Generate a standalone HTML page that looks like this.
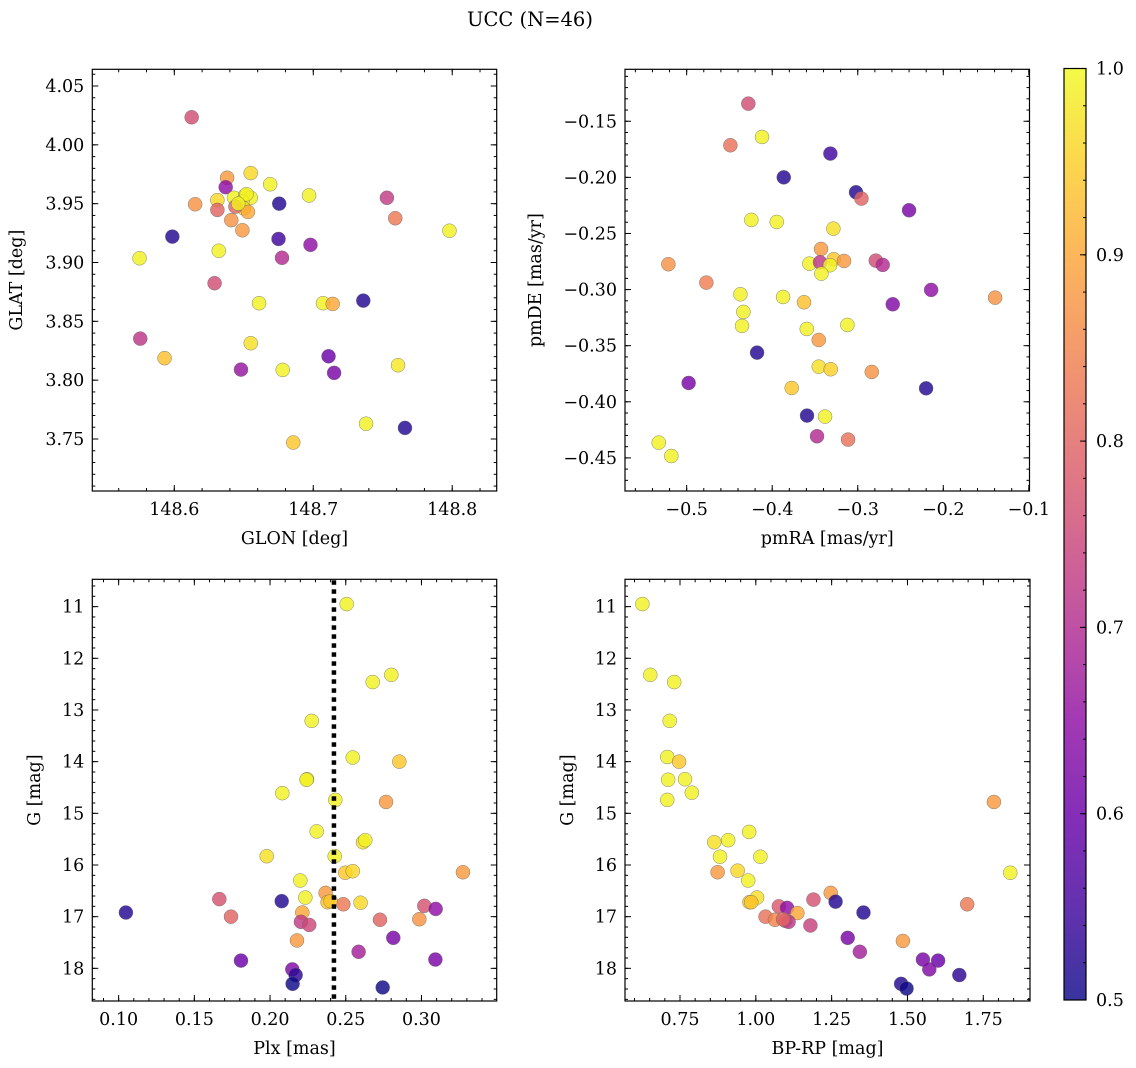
<!DOCTYPE html>
<html><head><meta charset="utf-8"><style>
html,body{margin:0;padding:0;background:#fff;}
svg{display:block;font-family:"DejaVu Serif","Liberation Serif",serif;}
</style></head><body>
<svg id="fig" width="1136" height="1068" viewBox="0 0 1136 1068" xmlns="http://www.w3.org/2000/svg">
<text x="530" y="26" font-size="19.5" text-anchor="middle">UCC (N=46)</text>
<defs><linearGradient id="cmap" x1="0" y1="1" x2="0" y2="0"></linearGradient></defs>
</svg>
<script>
// Panel 1: GLON vs GLAT
const glon=[148.6125,148.655,148.638,148.669,148.637,148.697,148.753,148.631,148.643,148.651,148.655,148.649,148.650,148.644,148.653,148.615,148.631,148.6755,148.759,148.641,148.649,148.798,148.5986,148.675,148.698,148.632,148.575,148.6775,148.629,148.661,148.707,148.714,148.736,148.5755,148.655,148.593,148.711,148.761,148.648,148.678,148.715,148.738,148.766,148.6856,148.652,148.646];
const glat=[4.0234,3.976,3.972,3.9665,3.964,3.957,3.955,3.953,3.955,3.957,3.955,3.952,3.946,3.9475,3.943,3.9495,3.9447,3.950,3.9376,3.936,3.9274,3.927,3.922,3.920,3.915,3.910,3.9036,3.904,3.8824,3.8654,3.8654,3.8648,3.8676,3.8353,3.8314,3.8187,3.8203,3.8127,3.809,3.8087,3.8062,3.763,3.7594,3.747,3.958,3.950];
const prob1=[0.76,0.96,0.88,0.99,0.65,0.99,0.73,0.96,0.99,0.99,0.99,0.99,0.96,0.8,0.9,0.87,0.8,0.52,0.83,0.87,0.88,0.99,0.52,0.55,0.65,0.99,0.99,0.7,0.76,0.99,0.99,0.9,0.52,0.72,0.97,0.93,0.6,0.98,0.66,0.99,0.62,0.99,0.52,0.94,0.99,0.99];
// Panel 2: pmRA vs pmDE
const pmra=[-0.4279,-0.4119,-0.4489,-0.332,-0.3865,-0.302,-0.2957,-0.24,-0.4244,-0.3947,-0.3285,-0.3429,-0.5214,-0.3565,-0.3441,-0.3281,-0.316,-0.3324,-0.3425,-0.2789,-0.2708,-0.477,-0.2142,-0.4372,-0.3873,-0.1394,-0.3628,-0.2591,-0.4337,-0.4353,-0.3121,-0.3596,-0.3456,-0.4177,-0.3456,-0.3316,-0.2836,-0.4977,-0.3772,-0.2201,-0.3593,-0.3382,-0.3476,-0.3113,-0.5327,-0.5179];
const pmde=[-0.1343,-0.164,-0.1714,-0.1788,-0.2,-0.2133,-0.2189,-0.2293,-0.2379,-0.2397,-0.2457,-0.2638,-0.2774,-0.2769,-0.2757,-0.273,-0.2745,-0.2783,-0.2858,-0.2742,-0.278,-0.2938,-0.3003,-0.3042,-0.3066,-0.3072,-0.3113,-0.3131,-0.3199,-0.3324,-0.3315,-0.3351,-0.3449,-0.3562,-0.3687,-0.371,-0.3734,-0.3832,-0.3877,-0.388,-0.4123,-0.4132,-0.4307,-0.4337,-0.4364,-0.4483];
const prob2=[0.76,0.99,0.82,0.55,0.52,0.52,0.8,0.62,0.99,0.99,0.97,0.88,0.87,0.99,0.72,0.94,0.88,0.99,0.99,0.76,0.7,0.84,0.65,0.99,0.99,0.87,0.93,0.63,0.99,0.99,0.99,0.99,0.88,0.52,0.97,0.95,0.87,0.62,0.94,0.52,0.52,0.99,0.7,0.82,0.99,0.99];
// Panel 3: Plx vs G
const plx=[0.2506,0.2801,0.2678,0.2275,0.2546,0.2854,0.2244,0.2081,0.2431,0.2766,0.2308,0.2614,0.2629,0.1978,0.2427,0.3274,0.2497,0.2546,0.22,0.2367,0.2233,0.1665,0.2077,0.238,0.2484,0.2598,0.3019,0.3094,0.1048,0.2213,0.1742,0.2204,0.2259,0.2726,0.2986,0.2814,0.2178,0.2585,0.1808,0.3092,0.2147,0.2169,0.2149,0.2744,0.2241,0.2400];
const gmag3=[10.95,12.32,12.46,13.21,13.92,14.0,14.34,14.61,14.74,14.78,15.35,15.56,15.52,15.83,15.83,16.14,16.15,16.12,16.30,16.54,16.63,16.66,16.70,16.72,16.76,16.73,16.79,16.85,16.92,16.92,17.0,17.10,17.16,17.06,17.05,17.41,17.46,17.68,17.85,17.83,18.02,18.13,18.30,18.37,14.35,16.70];
const prob3=[0.99,0.99,0.99,0.99,0.99,0.94,0.99,0.99,0.99,0.88,0.99,0.97,0.99,0.97,0.99,0.88,0.94,0.96,0.99,0.88,0.99,0.77,0.52,0.93,0.83,0.96,0.77,0.65,0.52,0.9,0.8,0.73,0.75,0.8,0.87,0.62,0.88,0.68,0.6,0.62,0.63,0.53,0.5,0.5,0.99,0.94];
// Panel 4: BP-RP vs G
const bprp=[0.626,0.652,0.731,0.716,0.708,0.747,0.711,0.7665,0.789,0.708,1.785,0.978,0.863,0.909,0.882,1.015,0.874,0.94,1.839,0.975,1.247,1.004,0.979,1.19,1.263,1.076,1.103,1.697,1.355,1.137,1.032,1.063,1.097,1.108,1.18,1.303,1.343,1.485,1.551,1.601,1.572,1.671,1.479,1.497,0.985,1.09];
const gmag4=[10.95,12.32,12.46,13.21,13.91,14.0,14.35,14.34,14.6,14.74,14.78,15.36,15.56,15.52,15.84,15.84,16.14,16.11,16.15,16.30,16.54,16.63,16.72,16.67,16.71,16.80,16.83,16.76,16.92,16.93,17.0,17.06,17.08,17.1,17.17,17.41,17.68,17.47,17.83,17.85,18.02,18.13,18.30,18.39,16.72,17.05];
const prob4=[0.99,0.99,0.99,0.99,0.99,0.94,0.99,0.99,0.99,0.99,0.88,0.99,0.97,0.99,0.99,0.99,0.88,0.96,0.99,0.99,0.88,0.97,0.94,0.77,0.52,0.78,0.65,0.83,0.52,0.9,0.82,0.85,0.8,0.72,0.74,0.62,0.68,0.88,0.62,0.6,0.63,0.53,0.52,0.5,0.94,0.8];
const plxLine=0.2422;
const cbTicks=[0.5,0.6,0.7,0.8,0.9,1.0];

const NS="http://www.w3.org/2000/svg";
const svg=document.getElementById('fig');
function mk(tag,attrs,parent){const e=document.createElementNS(NS,tag);for(const k in attrs)e.setAttribute(k,attrs[k]);(parent||svg).appendChild(e);return e;}
const stops=[[13,8,135],[65,4,157],[106,0,168],[143,13,164],[177,42,144],[204,71,120],[225,100,98],[242,132,75],[252,166,54],[252,206,37],[240,249,33]];
function plasma(t){t=Math.max(0,Math.min(1,t));const f=t*10,i=Math.min(9,Math.floor(f)),r=f-i;const a=stops[i],b=stops[i+1];return 'rgb('+a.map((v,k)=>Math.round(v+(b[k]-v)*r)).join(',')+')';}
function pcol(p){return plasma((p-0.5)/0.5);}
const minus=s=>s.replace('-','\u2212');
const FS=17.5;

function panel(cfg){
  const {x0,x1,y0,y1,xmin,xmax,ymin,ymax,inv}=cfg;
  const sx=v=>x0+(v-xmin)/(xmax-xmin)*(x1-x0);
  const sy=v=>inv? y0+(v-ymin)/(ymax-ymin)*(y1-y0) : y1-(v-ymin)/(ymax-ymin)*(y1-y0);
  const g=mk('g',{});
  
  
  for(let i=0;i<cfg.xs.length;i++){
    const c=mk('circle',{cx:sx(cfg.xs[i]),cy:sy(cfg.ys[i]),r:7,fill:pcol(cfg.ps[i]),'fill-opacity':0.82,stroke:'#666','stroke-width':0.5,'stroke-opacity':0.8},g);
    
    
  }
  if(cfg.vline!==undefined){
    const lg=mk('g',{fill:'#000'},g);
    
    
    const X=sx(cfg.vline);
    for(let yy=y0+1;yy<y1-2;yy+=9){mk('rect',{x:X-2.25,y:yy,width:4.5,height:Math.min(4.5,y1-yy),fill:'#000'},lg);}
  }
  const eps=1e-9;
  function ticksX(step,len){for(let v=Math.ceil(xmin/step-eps)*step;v<=xmax+eps;v+=step){const X=sx(v);mk('line',{x1:X,x2:X,y1:y1,y2:y1-len,stroke:'#000','stroke-width':1},g);mk('line',{x1:X,x2:X,y1:y0,y2:y0+len,stroke:'#000','stroke-width':1},g);}}
  function ticksY(step,len){for(let v=Math.ceil(ymin/step-eps)*step;v<=ymax+eps;v+=step){const Y=sy(v);mk('line',{x1:x0,x2:x0+len,y1:Y,y2:Y,stroke:'#000','stroke-width':1},g);mk('line',{x1:x1,x2:x1-len,y1:Y,y2:Y,stroke:'#000','stroke-width':1},g);}}
  ticksX(cfg.xminor,3);ticksY(cfg.yminor,3);ticksX(cfg.xmajor,6);ticksY(cfg.ymajor,6);
  for(let v=Math.ceil(xmin/cfg.xmajor-eps)*cfg.xmajor;v<=xmax+eps;v+=cfg.xmajor){
    const t=mk('text',{x:sx(v),y:y1+24,'font-size':FS,'text-anchor':'middle'},g);t.textContent=minus(v.toFixed(cfg.xdec));
    
  }
  for(let v=Math.ceil(ymin/cfg.ymajor-eps)*cfg.ymajor;v<=ymax+eps;v+=cfg.ymajor){
    const t=mk('text',{x:x0-8,y:sy(v)+6,'font-size':FS,'text-anchor':'end'},g);t.textContent=minus(v.toFixed(cfg.ydec));
    
  }
  mk('rect',{x:x0,y:y0,width:x1-x0,height:y1-y0,fill:'none',stroke:'#000','stroke-width':1.2},g);
  const xl=mk('text',{x:(x0+x1)/2,y:y1+53,'font-size':FS,'text-anchor':'middle'},g);xl.textContent=cfg.xlabel;
  
  const yl=mk('text',{x:cfg.ylx,y:(y0+y1)/2,'font-size':FS,'text-anchor':'middle',transform:'rotate(-90 '+cfg.ylx+' '+((y0+y1)/2)+')'},g);yl.textContent=cfg.ylabel;
  
}
panel({name:'glon-glat-panel',x0:92.3,x1:496.7,y0:69.3,y1:491,xmin:148.541,xmax:148.832,ymin:3.7058,ymax:4.0642,xs:glon,ys:glat,ps:prob1,xmajor:0.1,xminor:0.02,ymajor:0.05,yminor:0.01,xdec:1,ydec:2,xlabel:'GLON [deg]',ylabel:'GLAT [deg]',ylx:22});
panel({name:'pm-panel',x0:625,x1:1029.5,y0:69.3,y1:491,xmin:-0.5721,xmax:-0.0992,ymin:-0.4795,ymax:-0.1037,xs:pmra,ys:pmde,ps:prob2,xmajor:0.1,xminor:0.02,ymajor:0.05,yminor:0.01,xdec:1,ydec:2,xlabel:'pmRA [mas/yr]',ylabel:'pmDE [mas/yr]',ylx:541});
panel({name:'plx-g-panel',x0:92.3,x1:496.7,y0:579.3,y1:1001,xmin:0.0826,xmax:0.3497,ymin:10.471,ymax:18.632,inv:true,xs:plx,ys:gmag3,ps:prob3,xmajor:0.05,xminor:0.01,ymajor:1,yminor:0.2,xdec:2,ydec:0,xlabel:'Plx [mas]',ylabel:'G [mag]',ylx:40,vline:plxLine});
panel({name:'cmd-panel',x0:625,x1:1030,y0:579.3,y1:1001,xmin:0.5687,xmax:1.904,ymin:10.471,ymax:18.632,inv:true,xs:bprp,ys:gmag4,ps:prob4,xmajor:0.25,xminor:0.05,ymajor:1,yminor:0.2,xdec:2,ydec:0,xlabel:'BP-RP [mag]',ylabel:'G [mag]',ylx:573});

const grad=document.getElementById('cmap');
for(let i=0;i<=20;i++){mk('stop',{offset:(i/20),'stop-color':plasma(i/20)},grad);}
const cb=mk('g',{});


const cy0=68.5,cy1=1000,cx0=1064,cx1=1086;
mk('rect',{x:cx0,y:cy0,width:cx1-cx0,height:cy1-cy0,fill:'url(#cmap)','fill-opacity':0.82},cb);
const cs=v=>cy1-(v-0.5)/0.5*(cy1-cy0);
for(let k=0;k<=25;k++){const v=0.5+k*0.02;mk('line',{x1:cx1,x2:cx1-3,y1:cs(v),y2:cs(v),stroke:'#000','stroke-width':1},cb);}
for(const v of cbTicks){mk('line',{x1:cx1,x2:cx1-6,y1:cs(v),y2:cs(v),stroke:'#000','stroke-width':1},cb);
  const t=mk('text',{x:cx1+10,y:cs(v)+6,'font-size':FS},cb);t.textContent=v.toFixed(1);
  }
mk('rect',{x:cx0,y:cy0,width:cx1-cx0,height:cy1-cy0,fill:'none',stroke:'#000','stroke-width':1.2},cb);
</script>
</body></html>
